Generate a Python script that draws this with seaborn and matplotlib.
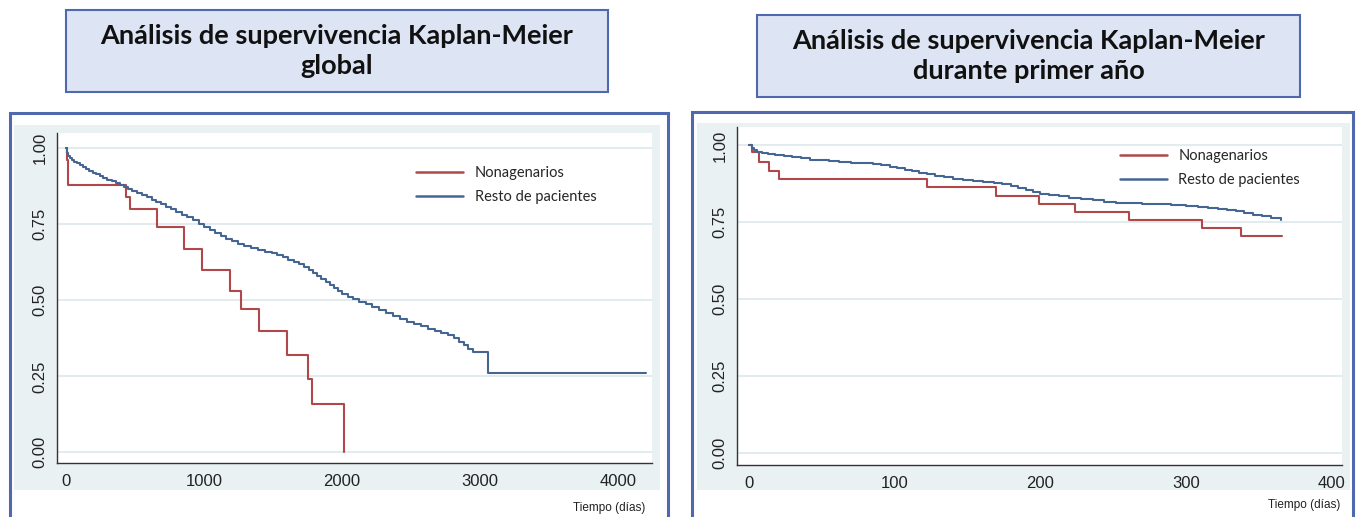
import numpy as np
import pandas as pd
import matplotlib
matplotlib.use("Agg")
import matplotlib.pyplot as plt
from matplotlib.patches import Rectangle
from matplotlib.lines import Line2D
import seaborn as sns

# ---- data ----
grupos = ["Nonagenarios", "Resto de pacientes"]

# global KM (days)
glob_nona_t = [0, 5, 12, 435, 464, 660, 855, 983, 1188, 1266, 1395, 1600, 1751, 1783, 2016]
glob_nona_s = [1.0, 0.96, 0.88, 0.84, 0.80, 0.74, 0.67, 0.60, 0.53, 0.47, 0.40, 0.32, 0.24, 0.16, 0.0]

glob_resto_t = [0, 5, 15, 30, 45, 60, 80, 100, 120, 145, 170, 195, 220, 245, 270, 300, 330, 360,
                390, 420, 450, 480, 515, 550, 585, 620, 655, 690, 725, 760, 800, 840, 880, 920,
                960, 1000, 1040, 1080, 1120, 1160, 1200, 1245, 1290, 1340, 1390, 1440, 1490,
                1530, 1570, 1610, 1650, 1690, 1725, 1760, 1790, 1820, 1850, 1880, 1910, 1940,
                1970, 2000, 2040, 2080, 2120, 2170, 2220, 2270, 2320, 2370, 2420, 2470, 2520,
                2570, 2620, 2670, 2720, 2770, 2810, 2850, 2880, 2910, 2950, 3050, 3060, 4200]
glob_resto_s = [1.0, 0.985, 0.975, 0.968, 0.962, 0.956, 0.95, 0.944, 0.938, 0.932, 0.926, 0.92,
                0.914, 0.908, 0.903, 0.897, 0.891, 0.885, 0.879, 0.872, 0.866, 0.859, 0.852,
                0.845, 0.838, 0.831, 0.823, 0.815, 0.807, 0.799, 0.791, 0.782, 0.773, 0.763,
                0.752, 0.742, 0.732, 0.722, 0.712, 0.703, 0.694, 0.686, 0.678, 0.671, 0.665,
                0.66, 0.655, 0.648, 0.641, 0.634, 0.627, 0.618, 0.609, 0.6, 0.59, 0.58, 0.57,
                0.56, 0.55, 0.54, 0.53, 0.52, 0.511, 0.503, 0.495, 0.487, 0.479, 0.468, 0.457,
                0.447, 0.438, 0.43, 0.422, 0.414, 0.406, 0.398, 0.391, 0.385, 0.375, 0.364,
                0.352, 0.341, 0.33, 0.33, 0.26, 0.26]

# first year KM (days)
anio_nona_t = [0, 2, 7, 14, 21, 122, 170, 199, 224, 261, 311, 338, 366]
anio_nona_s = [1.0, 0.979, 0.947, 0.917, 0.89, 0.864, 0.837, 0.81, 0.782, 0.757, 0.731, 0.704, 0.704]

anio_resto_t = [0, 2, 4, 6, 9, 13, 18, 24, 30, 36, 42, 48, 55, 62, 70, 78, 85, 91, 97, 102, 107,
                112, 117, 122, 128, 134, 140, 147, 154, 161, 168, 174, 180, 185, 190, 195, 200,
                206, 213, 220, 228, 236, 244, 252, 260, 270, 280, 290, 300, 308, 315, 322, 328,
                334, 340, 346, 352, 358, 365]
anio_resto_s = [1.0, 0.993, 0.986, 0.98, 0.975, 0.971, 0.968, 0.965, 0.962, 0.958, 0.954, 0.951,
                0.948, 0.946, 0.944, 0.942, 0.939, 0.936, 0.931, 0.926, 0.921, 0.916, 0.911,
                0.906, 0.901, 0.896, 0.892, 0.888, 0.885, 0.881, 0.877, 0.873, 0.868, 0.862,
                0.855, 0.848, 0.842, 0.838, 0.834, 0.83, 0.825, 0.821, 0.817, 0.814, 0.812,
                0.81, 0.808, 0.806, 0.803, 0.8, 0.797, 0.793, 0.789, 0.785, 0.78, 0.775, 0.77,
                0.764, 0.758]

titulos = ["Análisis de supervivencia Kaplan-Meier\nglobal",
           "Análisis de supervivencia Kaplan-Meier\ndurante primer año"]
yticks = [0.0, 0.25, 0.5, 0.75, 1.0]
xticks_glob = [0, 1000, 2000, 3000, 4000]
xticks_anio = [0, 100, 200, 300, 400]
xlabel = "Tiempo (días)"

# ---- style ----
RED = "#b0474a"
BLUE = "#456690"
FRAME = "#5068ae"
GRAPH_BG = "#eaf1f3"
TITLE_BG = "#dde4f3"
GRID = "#e2ebee"
palette = {grupos[0]: RED, grupos[1]: BLUE}

sns.set_style("white")
plt.rcParams["font.family"] = ["Liberation Sans", "DejaVu Sans"]

W, H = 1360, 517
fig = plt.figure(figsize=(W / 100, H / 100), dpi=100)
fig.patch.set_facecolor("white")


def px_rect(x0, y0, x1, y1, **kw):
    # rectangle given in pixel coords (origin top-left)
    r = Rectangle((x0 / W, 1 - y1 / H), (x1 - x0) / W, (y1 - y0) / H,
                  transform=fig.transFigure, **kw)
    fig.add_artist(r)
    return r


def make_df(nona_t, nona_s, resto_t, resto_s):
    a = pd.DataFrame({"t": nona_t, "s": nona_s, "grupo": grupos[0]})
    b = pd.DataFrame({"t": resto_t, "s": resto_s, "grupo": grupos[1]})
    return pd.concat([a, b], ignore_index=True)


panels = [
    dict(df=make_df(glob_nona_t, glob_nona_s, glob_resto_t, glob_resto_s),
         frame=(10, 113, 668, 530), graph=(14, 125, 660, 490),
         title_box=(66, 10, 608, 92), title=titulos[0],
         ax_px=(57, 133, 652, 463), xlim=(-65, 4245), ylim=(-0.035, 1.05),
         xticks=xticks_glob, leg=(0.604, 0.9), xlab=(645, 508)),
    dict(df=make_df(anio_nona_t, anio_nona_s, anio_resto_t, anio_resto_s),
         frame=(692, 112, 1353, 530), graph=(697, 123, 1350, 490),
         title_box=(757, 15, 1300, 97), title=titulos[1],
         ax_px=(737, 127, 1342, 465), xlim=(-8, 407), ylim=(-0.04, 1.06),
         xticks=xticks_anio, leg=(0.633, 0.935), xlab=(1340, 505)),
]

for p in panels:
    # outer frame + graph region
    px_rect(*p["frame"], facecolor="white", edgecolor=FRAME, linewidth=2.2, zorder=0)
    px_rect(*p["graph"], facecolor=GRAPH_BG, edgecolor="none", zorder=0.5)

    # title box
    tb = p["title_box"]
    px_rect(*tb, facecolor=TITLE_BG, edgecolor=FRAME, linewidth=1.5, zorder=1)
    fig.text((tb[0] + tb[2]) / 2 / W, 1 - (tb[1] + tb[3]) / 2 / H, p["title"],
             ha="center", va="center", fontsize=19.5, fontweight="bold",
             family=["Lato", "DejaVu Sans"], linespacing=1.3, color="#111111")

    x0, y0, x1, y1 = p["ax_px"]
    ax = fig.add_axes([x0 / W, 1 - y1 / H, (x1 - x0) / W, (y1 - y0) / H])
    ax.set_facecolor("white")
    ax.set_zorder(2)

    sns.lineplot(data=p["df"], x="t", y="s", hue="grupo", palette=palette,
                 estimator=None, sort=False, drawstyle="steps-post",
                 linewidth=1.5, legend=False, ax=ax)

    ax.set_xlim(*p["xlim"])
    ax.set_ylim(*p["ylim"])
    ax.set_xticks(p["xticks"])
    ax.set_yticks(yticks)
    ax.set_yticklabels([f"{v:.2f}" for v in yticks], rotation=90, va="center")
    ax.tick_params(axis="both", labelsize=12, colors="#222222", length=4,
                   width=0.9, direction="out", pad=3)
    ax.tick_params(axis="x", pad=4)
    for y in yticks:
        ax.axhline(y, color=GRID, linewidth=1.4, zorder=0)
    for side in ["top", "right"]:
        ax.spines[side].set_visible(False)
    for side in ["left", "bottom"]:
        ax.spines[side].set_color("#333333")
        ax.spines[side].set_linewidth(1.0)
    ax.set_xlabel("")
    ax.set_ylabel("")

    handles = [Line2D([], [], color=palette[g], linewidth=1.8) for g in grupos]
    leg = ax.legend(handles, grupos, loc="upper left", bbox_to_anchor=p["leg"],
                    frameon=False, handlelength=3.2, handletextpad=0.8,
                    labelspacing=0.7, borderpad=0, borderaxespad=0,
                    prop={"family": ["Lato", "DejaVu Sans"], "size": 10.5})

    fig.text(p["xlab"][0] / W, 1 - p["xlab"][1] / H, xlabel, ha="right", va="center",
             fontsize=8.5, color="#222222")

fig.savefig("out.png", dpi=100, facecolor="white")
